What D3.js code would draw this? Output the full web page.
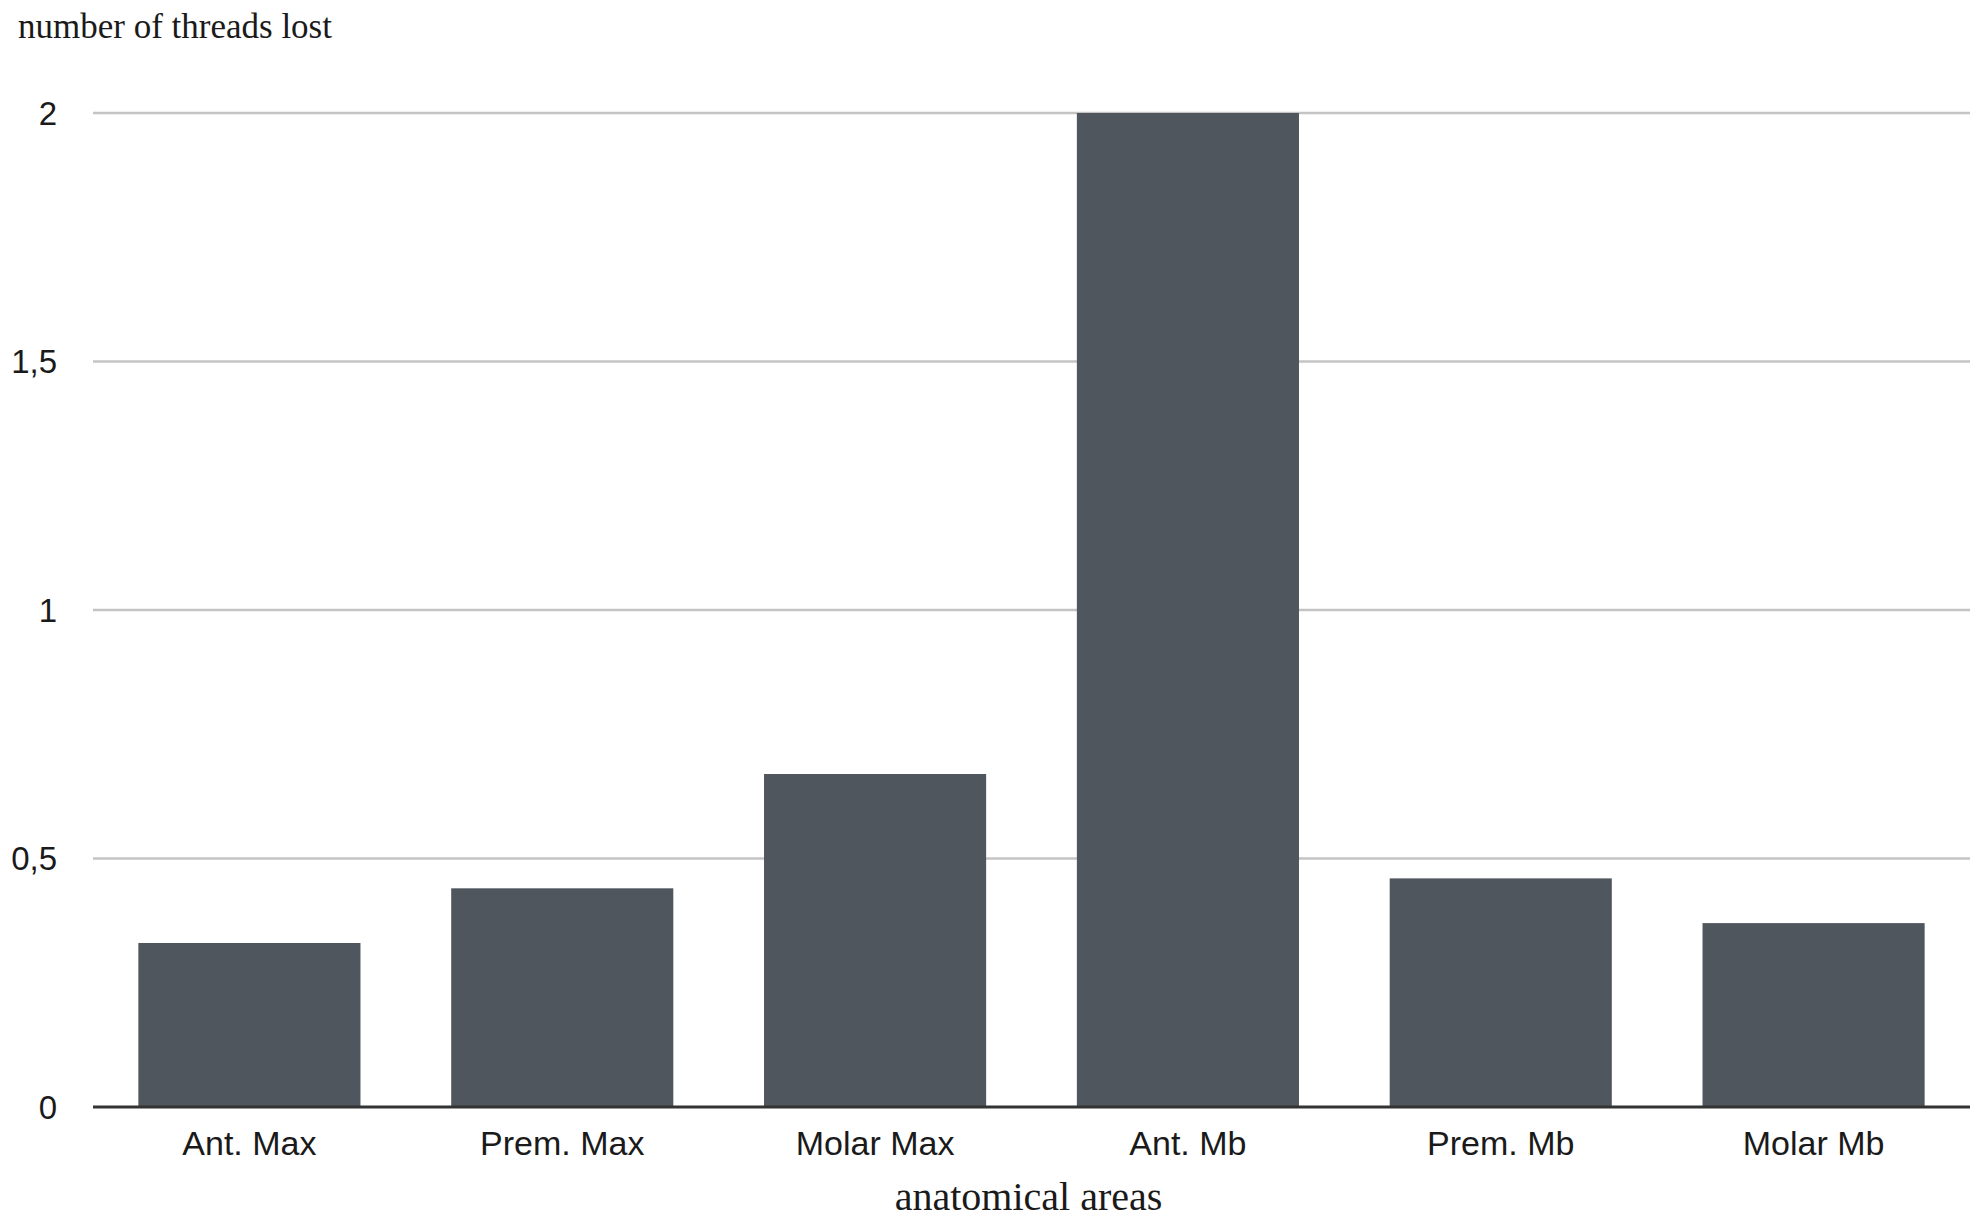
<!DOCTYPE html>
<html><head><meta charset="utf-8">
<script src="https://cdn.jsdelivr.net/npm/d3@7"></script>
<style>body{margin:0;background:#fff;}</style>
</head><body>
<svg id="chart" width="1985" height="1222"></svg>
<script>
const categories = ["Ant. Max", "Prem. Max", "Molar Max", "Ant. Mb", "Prem. Mb", "Molar Mb"];
const values = [0.33, 0.44, 0.67, 2.0, 0.46, 0.37];
const yTicks = [0, 0.5, 1, 1.5, 2];
const yTickLabels = ["0", "0,5", "1", "1,5", "2"];
const yTitle = "number of threads lost";
const xTitle = "anatomical areas";

(function () {
const svg = d3.select("#chart");
const mLeft = 93, mRight = 1970, mTop = 113, mBottom = 1107;

const x = d3.scaleBand().domain(categories).range([mLeft, mRight]).paddingInner(0.29).paddingOuter(0.145);
const y = d3.scaleLinear().domain([0, 2]).range([mBottom, mTop]);

// gridlines
svg.append("g").selectAll("line").data(yTicks.filter(d => d > 0)).join("line")
  .attr("x1", mLeft).attr("x2", mRight)
  .attr("y1", d => y(d)).attr("y2", d => y(d))
  .attr("stroke", "#c4c4c4").attr("stroke-width", 2.5);

// y tick labels
svg.append("g").selectAll("text").data(yTicks).join("text")
  .attr("x", 57).attr("y", d => y(d)).attr("dy", "0.36em")
  .attr("text-anchor", "end")
  .attr("font-family", "Liberation Sans, Arial, sans-serif").attr("font-size", 33)
  .attr("fill", "#1a1a1a")
  .text((d, i) => yTickLabels[i]);

// bars
svg.append("g").selectAll("rect").data(values).join("rect")
  .attr("x", (d, i) => x(categories[i]))
  .attr("width", x.bandwidth())
  .attr("y", d => y(d))
  .attr("height", d => y(0) - y(d))
  .attr("fill", "#50565d");

// baseline axis
svg.append("line").attr("x1", mLeft).attr("x2", mRight)
  .attr("y1", y(0)).attr("y2", y(0))
  .attr("stroke", "#333").attr("stroke-width", 3);

// category labels
svg.append("g").selectAll("text").data(categories).join("text")
  .attr("x", d => x(d) + x.bandwidth() / 2).attr("y", 1155)
  .attr("text-anchor", "middle")
  .attr("font-family", "Liberation Sans, Arial, sans-serif").attr("font-size", 34)
  .attr("fill", "#1a1a1a")
  .text(d => d);

// titles
svg.append("text").attr("x", 18).attr("y", 38)
  .attr("font-family", "Liberation Serif, Times New Roman, serif").attr("font-size", 35)
  .attr("fill", "#1a1a1a").text(yTitle);

svg.append("text").attr("x", (mLeft + mRight) / 2 - 3).attr("y", 1210)
  .attr("text-anchor", "middle")
  .attr("font-family", "Liberation Serif, Times New Roman, serif").attr("font-size", 40)
  .attr("fill", "#1a1a1a").text(xTitle);
})();
</script>
</body></html>
